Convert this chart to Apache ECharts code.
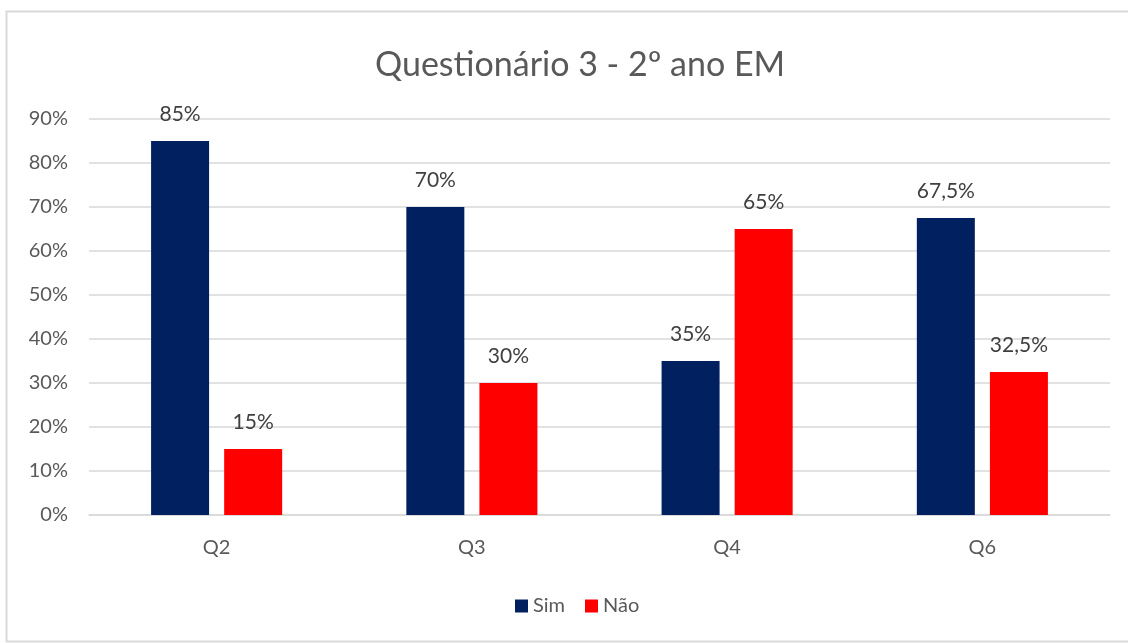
<!DOCTYPE html>
<html>
<head>
<meta charset="utf-8">
<script src="https://cdn.jsdelivr.net/npm/echarts@6/dist/echarts.min.js"></script>
<style>
html,body{margin:0;padding:0;background:#fff;}
#c{width:1128px;height:643px;}
</style>
</head>
<body>
<div id="c"></div>
<script>
const categories = ['Q2', 'Q3', 'Q4', 'Q6'];
const simValues = [85, 70, 35, 67.5];
const naoValues = [15, 30, 65, 32.5];
const yTicks = [0, 10, 20, 30, 40, 50, 60, 70, 80, 90];

const fontFam = 'Lato, "Open Sans", sans-serif';
const chart = echarts.init(document.getElementById('c'));
const labelFmt = p => String(p.value).replace('.', ',') + '%';
chart.setOption({
  animation: false,
  backgroundColor: '#fff',
  graphic: [{
    type: 'rect', left: 4, top: 9, shape: {width: 1140, height: 630},
    style: {fill: 'none', stroke: '#d9d9d9', lineWidth: 2}, silent: true
  }],
  title: {
    text: 'Questionário 3 - 2º ano EM', left: 370, top: 43,
    textStyle: {fontFamily: fontFam, fontSize: 34, fontWeight: 'normal', color: '#595959'}
  },
  legend: {
    data: ['Sim', 'Não'], bottom: 22, left: 510, itemWidth: 13, itemHeight: 13, itemGap: 20,
    icon: 'rect',
    textStyle: {fontFamily: fontFam, fontSize: 20, color: '#595959'}
  },
  grid: {left: 89, right: 18, top: 119, bottom: 128},
  xAxis: {
    type: 'category', data: categories,
    axisLine: {lineStyle: {color: '#d9d9d9', width: 1.5}},
    axisTick: {show: false},
    axisLabel: {fontFamily: fontFam, fontSize: 20, color: '#595959', margin: 23}
  },
  yAxis: {
    type: 'value', min: yTicks[0], max: yTicks[yTicks.length - 1], interval: 10,
    axisLine: {show: false}, axisTick: {show: false},
    splitLine: {lineStyle: {color: '#d9d9d9', width: 1.5}},
    axisLabel: {fontFamily: fontFam, fontSize: 20, color: '#595959', margin: 21, formatter: v => v + '%'}
  },
  series: [
    {
      name: 'Sim', type: 'bar', data: simValues, barWidth: 58, barGap: '26%',
      itemStyle: {color: '#002060'},
      label: {show: true, position: 'top', distance: 16, formatter: labelFmt,
        fontFamily: fontFam, fontSize: 21, color: '#404040'}
    },
    {
      name: 'Não', type: 'bar', data: naoValues, barWidth: 58,
      itemStyle: {color: '#ff0000'},
      label: {show: true, position: 'top', distance: 16, formatter: labelFmt,
        fontFamily: fontFam, fontSize: 21, color: '#404040'}
    }
  ]
});
</script>
</body>
</html>
